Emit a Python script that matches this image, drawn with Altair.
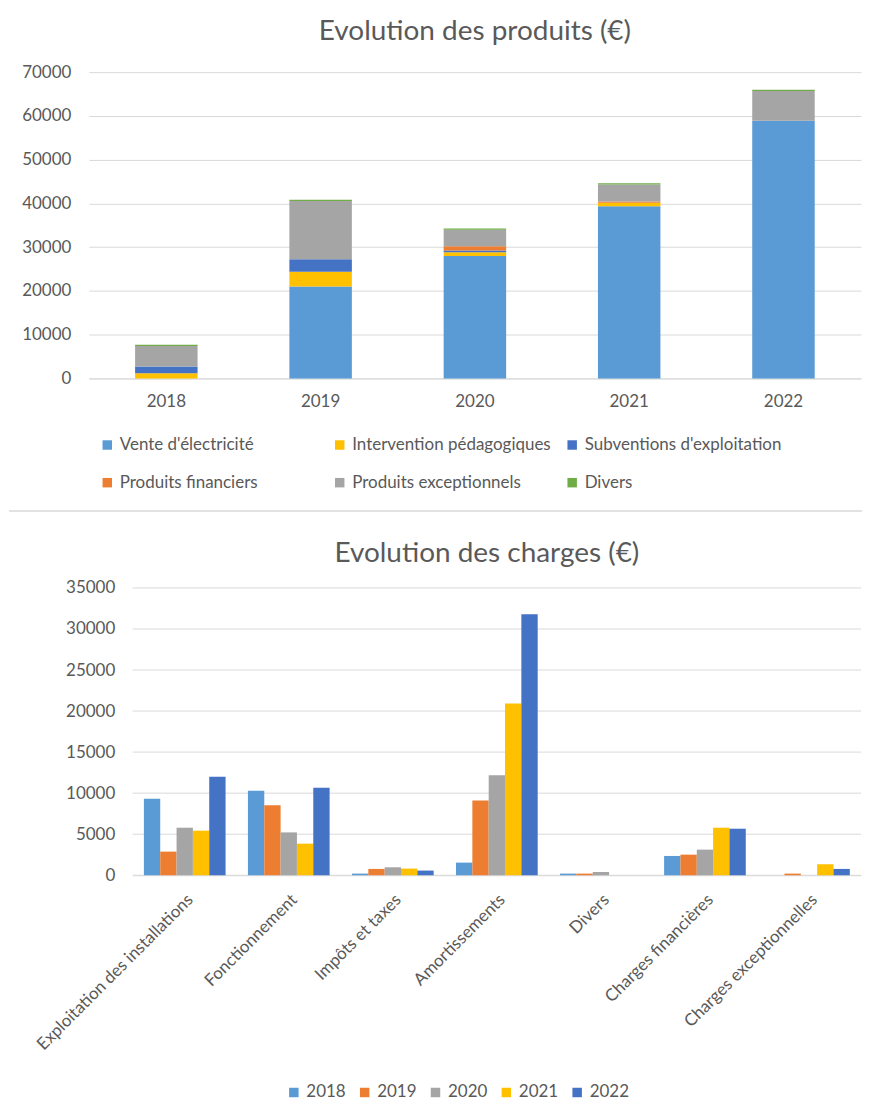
import altair as alt
import pandas as pd

FONT = "Lato"
TXT = "#595959"
GRID = "#D9D9D9"

# ---------- Produits ----------
years = ["2018", "2019", "2020", "2021", "2022"]
prod_series = ["Vente d'électricité", "Intervention pédagogiques", "Subventions d'exploitation",
               "Produits financiers", "Produits exceptionnels", "Divers"]
prod_colors = ["#5B9BD5", "#FFC000", "#4472C4", "#ED7D31", "#A5A5A5", "#70AD47"]
vente = [0, 21000, 27950, 39350, 58900]
intervention = [1200, 3350, 900, 780, 0]
subventions = [1500, 2870, 380, 0, 0]
financiers = [0, 0, 1000, 300, 0]
exceptionnels = [4700, 13300, 3740, 3880, 6770]
divers_p = [300, 300, 300, 300, 300]
prod_ticks = [0, 10000, 20000, 30000, 40000, 50000, 60000, 70000]

# ---------- Charges ----------
charge_cats = ["Exploitation des installations", "Fonctionnement", "Impôts et taxes", "Amortissements",
               "Divers", "Charges financières", "Charges exceptionnelles"]
year_colors = ["#5B9BD5", "#ED7D31", "#A5A5A5", "#FFC000", "#4472C4"]
c2018 = [9320, 10280, 200, 1540, 200, 2350, 0]
c2019 = [2880, 8540, 770, 9110, 200, 2510, 200]
c2020 = [5790, 5220, 970, 12180, 400, 3120, 0]
c2021 = [5430, 3850, 810, 20930, 0, 5790, 1340]
c2022 = [11990, 10650, 570, 31790, 0, 5670, 770]
charge_ticks = [0, 5000, 10000, 15000, 20000, 25000, 30000, 35000]

title_prod = "Evolution des produits (€)"
title_charges = "Evolution des charges (€)"

prod_vals = [vente, intervention, subventions, financiers, exceptionnels, divers_p]
rows = []
for si, (s, vals) in enumerate(zip(prod_series, prod_vals)):
    for y, v in zip(years, vals):
        rows.append({"year": y, "series": s, "value": v, "order": si})
df_p = pd.DataFrame(rows)

ch_vals = [c2018, c2019, c2020, c2021, c2022]
rows = []
for y, vals in zip(years, ch_vals):
    for c, v in zip(charge_cats, vals):
        rows.append({"cat": c, "yr": y, "amount": v})
df_c = pd.DataFrame(rows)
df_grid = pd.DataFrame({"tick": charge_ticks})

W, H = 774, 805          # shared drawing area
TOP_H = 307              # height of the "produits" plot
BOT_TOP, BOT_LEFT = 517, 44   # origin of the "charges" plot inside the area

top_bars = alt.Chart(df_p).mark_bar().encode(
    x=alt.X("year:N", sort=years,
            scale=alt.Scale(paddingInner=0.595, paddingOuter=0.3, range=[0, W]),
            axis=alt.Axis(title=None, orient="bottom", offset=TOP_H - H, labelAngle=0, domain=True,
                          domainColor=GRID, ticks=False, labelPadding=15, grid=False)),
    y=alt.Y("value:Q", stack="zero",
            scale=alt.Scale(domain=[0, 70000], nice=False, range=[TOP_H, 0]),
            axis=alt.Axis(title=None, orient="left", values=prod_ticks, domain=False, ticks=False,
                          grid=True, gridColor=GRID, labelPadding=18, minExtent=80, format="d")),
    color=alt.Color("series:N", scale=alt.Scale(domain=prod_series, range=prod_colors),
                    legend=alt.Legend(title=None, orient="none", legendX=10, legendY=365,
                                      direction="horizontal", columns=3, gridAlign="all",
                                      columnPadding=12, rowPadding=20, symbolType="square",
                                      symbolSize=90, symbolStrokeWidth=0, labelFontSize=17,
                                      labelLimit=400, padding=0)),
    order=alt.Order("order:Q"),
)

bot_y_scale = alt.Scale(domain=[0, 35000], nice=False, range=[H, BOT_TOP])

bot_grid = alt.Chart(df_grid).mark_rule(color=GRID, strokeWidth=1).encode(
    y=alt.Y("tick:Q", scale=bot_y_scale,
            axis=alt.Axis(title=None, orient="left", offset=-BOT_LEFT, values=charge_ticks,
                          domain=False, ticks=False, grid=False, labelPadding=18, format="d")),
    x=alt.value(BOT_LEFT), x2=alt.value(W),
)

bot_bars = alt.Chart(df_c).mark_bar().encode(
    x=alt.X("cat:N", sort=charge_cats,
            scale=alt.Scale(paddingInner=0.215, paddingOuter=0.1075, range=[BOT_LEFT, W]),
            axis=alt.Axis(title=None, orient="bottom", labelAngle=-45, domain=True, domainColor=GRID,
                          ticks=False, labelPadding=16, grid=False, labelLimit=400)),
    xOffset=alt.XOffset("yr:N", sort=years, scale=alt.Scale(paddingInner=0, paddingOuter=0)),
    y=alt.Y("amount:Q", scale=bot_y_scale,
            axis=alt.Axis(title=None, orient="left", offset=-BOT_LEFT, values=charge_ticks,
                          domain=False, ticks=False, grid=False, labelPadding=18, format="d")),
    color=alt.Color("yr:N", sort=years, scale=alt.Scale(domain=years, range=year_colors),
                    legend=alt.Legend(title=None, orient="none", legendX=197, legendY=1014,
                                      direction="horizontal", columnPadding=10, symbolType="square",
                                      symbolSize=90, symbolStrokeWidth=0, labelFontSize=17,
                                      padding=0)),
)

bottom = alt.layer(bot_grid, bot_bars)

one = pd.DataFrame({"t": [title_charges]})
sep = alt.Chart(one).mark_rule(color=GRID, strokeWidth=1.5).encode(
    x=alt.value(-80), x2=alt.value(775), y=alt.value(440)
)
title2 = alt.Chart(one).mark_text(font=FONT, fontSize=28, color=TXT, align="center",
                                  baseline="middle").encode(
    text="t:N", x=alt.value(399), y=alt.value(483)
)

chart = alt.layer(top_bars, bottom, sep, title2).resolve_scale(
    x="independent", y="independent", color="independent"
).properties(
    width=W, height=H,
    title=alt.TitleParams(title_prod, fontSize=28, font=FONT, color=TXT,
                          fontWeight="normal", offset=17, anchor="middle"),
    padding={"left": 0, "top": 9, "right": 0, "bottom": 0},
).configure_view(stroke=None).configure_axis(
    labelFont=FONT, labelFontSize=17, labelColor=TXT
).configure_legend(
    labelFont=FONT, labelColor=TXT
)

chart.save("out.html", embed_options={"renderer": "svg", "actions": False})
